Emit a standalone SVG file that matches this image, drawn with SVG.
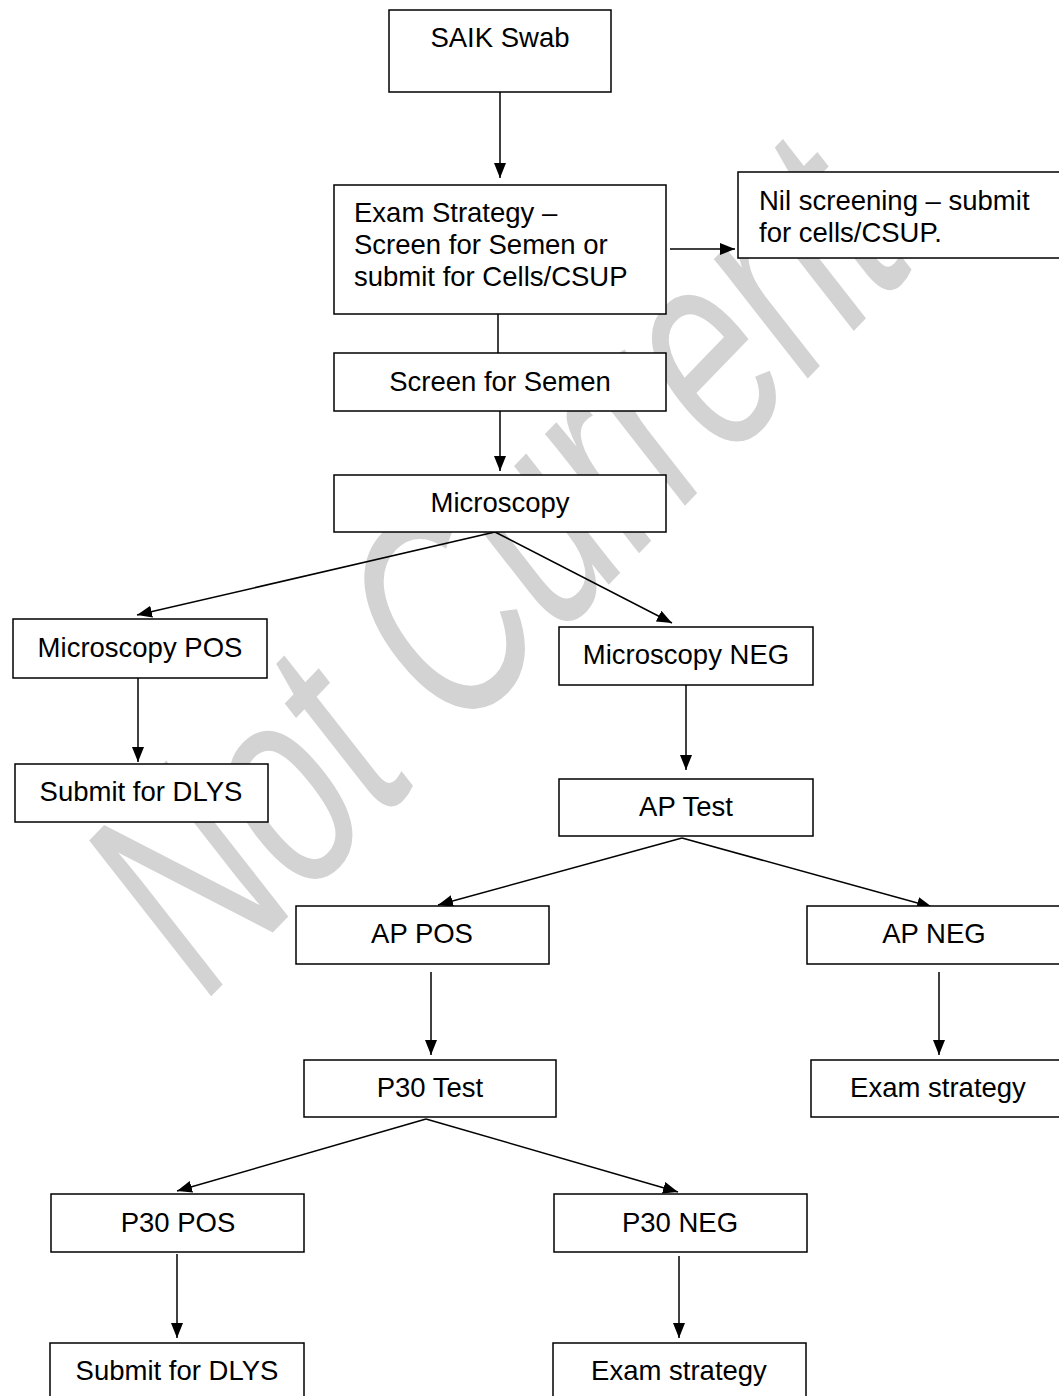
<svg xmlns="http://www.w3.org/2000/svg" width="1059" height="1396" viewBox="0 0 1059 1396">
<style>
.box{fill:#fff;stroke:#000;stroke-width:1.5}
.lbl{font-family:"Liberation Sans",Arial,sans-serif;font-size:27.5px;fill:#000}
.c{text-anchor:middle}
.conn{stroke:#000;stroke-width:1.5;fill:none}
.wm{font-family:"Liberation Sans",Arial,sans-serif;font-size:265px;fill:#d3d3d3;text-anchor:middle}
</style>
<defs>
<marker id="ah" viewBox="0 0 15 12" refX="15" refY="6" markerWidth="15" markerHeight="12" markerUnits="userSpaceOnUse" orient="auto">
<path d="M0,0 L15,6 L0,12 Z" fill="#000"/>
</marker>
</defs>
<rect width="1059" height="1396" fill="#fff"/>
<g id="watermark" transform="translate(495,560) scale(1,1.15) rotate(-42)">
<text class="wm" x="0" y="92" textLength="960" lengthAdjust="spacingAndGlyphs">Not Current</text>
</g>
<g id="connectors">
<line class="conn" x1="500" y1="92" x2="500" y2="178" stroke-width="2" marker-end="url(#ah)"/>
<line class="conn" x1="670" y1="249" x2="735" y2="249" marker-end="url(#ah)"/>
<line class="conn" x1="498" y1="314" x2="498" y2="353"/>
<line class="conn" x1="500" y1="411" x2="500" y2="471" marker-end="url(#ah)"/>
<line class="conn" x1="495" y1="532" x2="137" y2="615" marker-end="url(#ah)"/>
<line class="conn" x1="495" y1="532" x2="672" y2="623" marker-end="url(#ah)"/>
<line class="conn" x1="138" y1="678" x2="138" y2="762" marker-end="url(#ah)"/>
<line class="conn" x1="686" y1="685" x2="686" y2="770" marker-end="url(#ah)"/>
<line class="conn" x1="682" y1="838" x2="438" y2="905" marker-end="url(#ah)"/>
<line class="conn" x1="682" y1="838" x2="932" y2="907" marker-end="url(#ah)"/>
<line class="conn" x1="431" y1="972" x2="431" y2="1055" marker-end="url(#ah)"/>
<line class="conn" x1="939" y1="972" x2="939" y2="1055" marker-end="url(#ah)"/>
<line class="conn" x1="426" y1="1119" x2="177" y2="1191" marker-end="url(#ah)"/>
<line class="conn" x1="426" y1="1119" x2="678" y2="1192" marker-end="url(#ah)"/>
<line class="conn" x1="177" y1="1254" x2="177" y2="1338" marker-end="url(#ah)"/>
<line class="conn" x1="679" y1="1256" x2="679" y2="1338" marker-end="url(#ah)"/>
</g>
<g id="saik-swab"><rect class="box" x="389" y="10" width="222" height="82"/><text class="lbl c" x="500" y="47">SAIK Swab</text></g>
<g id="exam-strategy"><rect class="box" x="334" y="185" width="332" height="129"/>
<text class="lbl" x="354" y="222">Exam Strategy –</text>
<text class="lbl" x="354" y="254">Screen for Semen or</text>
<text class="lbl" x="354" y="286">submit for Cells/CSUP</text></g>
<g id="nil-screening"><rect class="box" x="738" y="172" width="340" height="86"/>
<text class="lbl" x="759" y="210">Nil screening – submit</text>
<text class="lbl" x="759" y="242">for cells/CSUP.</text></g>
<g id="screen-semen"><rect class="box" x="334" y="353" width="332" height="58"/><text class="lbl c" x="500" y="391">Screen for Semen</text></g>
<g id="microscopy"><rect class="box" x="334" y="475" width="332" height="57"/><text class="lbl c" x="500" y="512">Microscopy</text></g>
<g id="microscopy-pos"><rect class="box" x="13" y="619" width="254" height="59"/><text class="lbl c" x="140" y="657">Microscopy POS</text></g>
<g id="microscopy-neg"><rect class="box" x="559" y="627" width="254" height="58"/><text class="lbl c" x="686" y="664">Microscopy NEG</text></g>
<g id="submit-dlys-1"><rect class="box" x="15" y="764" width="253" height="58"/><text class="lbl c" x="141" y="801">Submit for DLYS</text></g>
<g id="ap-test"><rect class="box" x="559" y="779" width="254" height="57"/><text class="lbl c" x="686" y="816">AP Test</text></g>
<g id="ap-pos"><rect class="box" x="296" y="906" width="253" height="58"/><text class="lbl c" x="422" y="943">AP POS</text></g>
<g id="ap-neg"><rect class="box" x="807" y="906" width="260" height="58"/><text class="lbl c" x="934" y="943">AP NEG</text></g>
<g id="p30-test"><rect class="box" x="304" y="1060" width="252" height="57"/><text class="lbl c" x="430" y="1097">P30 Test</text></g>
<g id="exam-strategy-2"><rect class="box" x="811" y="1060" width="256" height="57"/><text class="lbl c" x="938" y="1097">Exam strategy</text></g>
<g id="p30-pos"><rect class="box" x="51" y="1194" width="253" height="58"/><text class="lbl c" x="178" y="1232">P30 POS</text></g>
<g id="p30-neg"><rect class="box" x="554" y="1194" width="253" height="58"/><text class="lbl c" x="680" y="1232">P30 NEG</text></g>
<g id="submit-dlys-2"><rect class="box" x="50" y="1343" width="254" height="70"/><text class="lbl c" x="177" y="1380">Submit for DLYS</text></g>
<g id="exam-strategy-3"><rect class="box" x="553" y="1343" width="253" height="70"/><text class="lbl c" x="679" y="1380">Exam strategy</text></g>
</svg>
